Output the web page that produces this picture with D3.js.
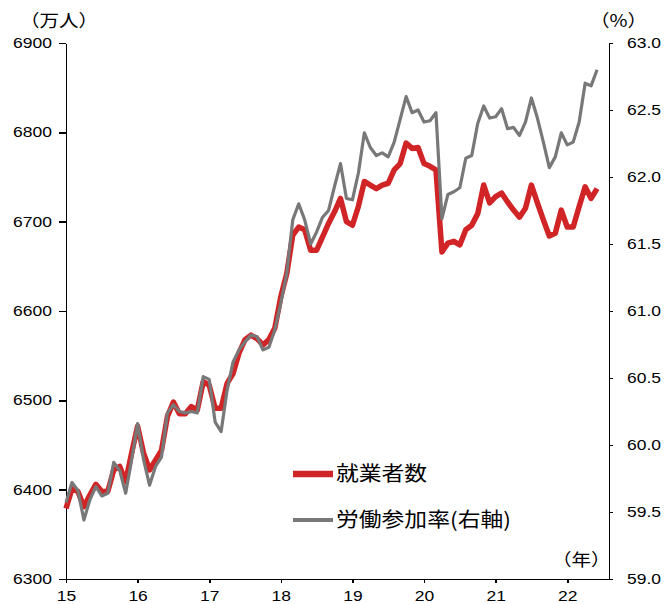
<!DOCTYPE html>
<html lang="ja">
<head>
  <meta charset="utf-8" />
  <title>就業者数と労働参加率</title>
<style>

body {
	margin: 0px;
	background: #fff;
}

.axis path,
.axis line {
  fill: none;
  stroke: #000;
  stroke-width: 1.6px;
  shape-rendering: crispEdges;
}

.axis text {
  font-family: 'Liberation Sans', Arial, sans-serif;
  font-size: 14px;
  fill: #000;
}

.unit, .legend text {
  font-family: 'Noto Sans CJK JP', sans-serif;
  fill: #000;
}

</style>
</head>

<body>
	<svg width="665" height="604"></svg>

	<script src="https://cdn.jsdelivr.net/npm/d3@7"></script>

	<script>

	// monthly, Jan 2015 - Jun 2022
	var yearLabels = ["15", "16", "17", "18", "19", "20", "21", "22"];

	var employed = [
		6379, 6401, 6398, 6381, 6394, 6406, 6398, 6398, 6422, 6426, 6409, 6441,
		6471, 6441, 6422, 6433, 6444, 6482, 6498, 6485, 6485, 6493, 6489, 6521,
		6517, 6491, 6491, 6519, 6530, 6553, 6568, 6573, 6569, 6562, 6568, 6581,
		6616, 6642, 6685, 6694, 6691, 6668, 6668, 6683, 6698, 6711, 6726, 6700,
		6696, 6717, 6745, 6741, 6737, 6741, 6743, 6758, 6765, 6788, 6782, 6783,
		6765, 6762, 6758, 6666, 6676, 6678, 6674, 6691, 6696, 6709, 6741, 6721,
		6728, 6732, 6722, 6713, 6705, 6715, 6741, 6721, 6702, 6684, 6687, 6713,
		6694, 6694, 6717, 6739, 6726, 6737
	];

	var participation = [
		59.57, 59.72, 59.66, 59.44, 59.59, 59.69, 59.62, 59.64, 59.87, 59.81, 59.64, 59.89,
		60.16, 59.89, 59.70, 59.84, 59.91, 60.24, 60.30, 60.25, 60.24, 60.25, 60.24, 60.51,
		60.49, 60.17, 60.10, 60.41, 60.62, 60.71, 60.77, 60.82, 60.81, 60.71, 60.73, 60.86,
		61.06, 61.28, 61.68, 61.80, 61.68, 61.50, 61.59, 61.70, 61.75, 61.93, 62.10, 61.84,
		61.83, 62.03, 62.33, 62.22, 62.16, 62.18, 62.15, 62.26, 62.43, 62.60, 62.48, 62.50,
		62.41, 62.42, 62.48, 61.69, 61.87, 61.89, 61.92, 62.14, 62.16, 62.40, 62.53, 62.44,
		62.45, 62.51, 62.36, 62.37, 62.31, 62.41, 62.59, 62.44, 62.26, 62.07, 62.15, 62.33,
		62.24, 62.26, 62.41, 62.70, 62.68, 62.80
	];

	var leftTicks = [6300, 6400, 6500, 6600, 6700, 6800, 6900];
	var rightTicks = [59.0, 59.5, 60.0, 60.5, 61.0, 61.5, 62.0, 62.5, 63.0];

	var seriesNames = ["就業者数", "労働参加率(右軸)"];
	var colours = ["#d02426", "#787878"];

	var svg = d3.select("svg"),
		margin = {top: 43, right: 56, bottom: 25, left: 66};

	var width = 665 - margin.left - margin.right,
		height = 604 - margin.top - margin.bottom;

	var stretch = 1.25;

	var x = d3.scaleLinear().domain([0, 91]).range([0, width]);
	var yL = d3.scaleLinear().domain([6300, 6900]).range([height, 0]);
	var yR = d3.scaleLinear().domain([59, 63]).range([height, 0]);

	var g = svg.append("g")
		.attr("transform", "translate(" + margin.left + "," + margin.top + ")");

	// axes
	var xAxis = g.append("g")
		.attr("class", "axis axis--x")
		.attr("transform", "translate(0," + height + ")")
		.call(d3.axisBottom(x)
			.tickValues(yearLabels.map(function(d, i) { return i * 12; }))
			.tickFormat(function(d) { return yearLabels[d / 12]; })
			.tickSize(4).tickSizeOuter(0));
	xAxis.selectAll("text")
		.attr("y", 12)
		.attr("dy", "0.71em")
		.attr("x", 0)
		.attr("transform", "scale(" + stretch + ",1)");

	var leftAxis = g.append("g")
		.attr("class", "axis axis--left")
		.call(d3.axisLeft(yL).tickValues(leftTicks).tickFormat(d3.format("d")).tickSize(7).tickSizeOuter(0));
	leftAxis.selectAll("text")
		.attr("x", -14 / stretch)
		.attr("transform", "scale(" + stretch + ",1)");

	var rightAxis = g.append("g")
		.attr("class", "axis axis--right")
		.attr("transform", "translate(" + width + ",0)")
		.call(d3.axisRight(yR).tickValues(rightTicks).tickFormat(d3.format(".1f")).tickSize(4).tickSizeOuter(0));
	rightAxis.selectAll("text")
		.attr("x", 18 / stretch)
		.attr("transform", "scale(" + stretch + ",1)");

	// lines
	var lineL = d3.line()
		.x(function(d, i) { return x(i); })
		.y(function(d) { return yL(d); });

	var lineR = d3.line()
		.x(function(d, i) { return x(i); })
		.y(function(d) { return yR(d); });

	g.append("path")
		.datum(employed)
		.attr("fill", "none")
		.attr("stroke", colours[0])
		.attr("stroke-width", 5.5)
		.attr("stroke-linejoin", "round")
		.attr("d", lineL);

	g.append("path")
		.datum(participation)
		.attr("fill", "none")
		.attr("stroke", colours[1])
		.attr("stroke-width", 3.2)
		.attr("stroke-linejoin", "round")
		.attr("d", lineR);

	// unit labels
	function unitLabel(txt, px, py, size, sx) {
		svg.append("text")
			.attr("class", "unit")
			.attr("transform", "translate(" + px + "," + py + ") scale(" + sx + ",1)")
			.attr("dy", "0.36em")
			.style("font-size", size + "px")
			.text(txt);
	}
	unitLabel("（万人）", 20, 21, 17, 1.15);
	unitLabel("（%）", 590, 21, 17, 1.15);
	unitLabel("（年）", 552, 560, 17, 1.15);

	// legend
	var legend = svg.append("g").attr("class", "legend")
		.selectAll("g")
		.data(seriesNames)
		.enter().append("g")
		.attr("transform", function(d, i) { return "translate(293," + (474 + i * 46) + ")"; });

	legend.append("line")
		.attr("x1", 0).attr("x2", 40)
		.attr("stroke", function(d, i) { return colours[i]; })
		.attr("stroke-width", function(d, i) { return i == 0 ? 6.5 : 4; });

	legend.append("text")
		.attr("transform", "translate(43,0) scale(1.14,1)")
		.attr("dy", "0.36em")
		.style("font-size", "20px")
		.text(function(d) { return d; });

	</script>
</body>
</html>
